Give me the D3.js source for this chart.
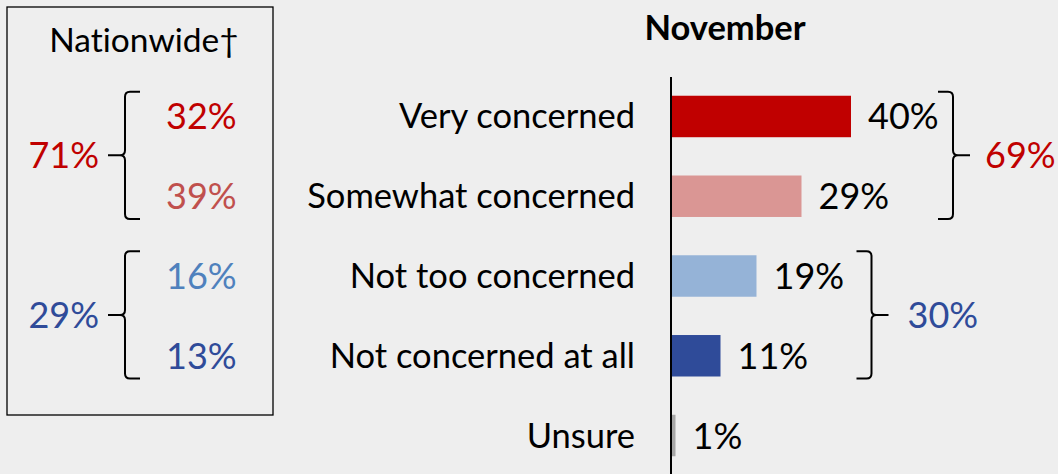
<!DOCTYPE html>
<html>
<head>
<meta charset="utf-8">
<script src="https://cdnjs.cloudflare.com/ajax/libs/d3/7.8.5/d3.min.js"></script>
<style>
  html, body { margin: 0; padding: 0; background: #eeeeee; }
  svg { display: block; }
  text { font-family: Lato, "Open Sans", sans-serif; font-variant-ligatures: none; font-feature-settings: "liga" 0; }
</style>
</head>
<body>
<svg id="chart" width="1058" height="474"></svg>
<script>
// ---- data ----
const title = "November";
const categories = ["Very concerned", "Somewhat concerned", "Not too concerned", "Not concerned at all", "Unsure"];
const values = [40, 29, 19, 11, 1];
const barColors = ["#C00000", "#DA9694", "#95B3D7", "#2F4B99", "#A6A6A6"];
const netLabels = ["69%", "30%"];
const netMembers = [[0, 1], [2, 3]];
const netColors = ["#C00000", "#2F4B99"];

const nationTitle = "Nationwide\u2020";
const nationTotals = ["71%", "29%"];
const nationParts = [["32%", "39%"], ["16%", "13%"]];
const nationPartColors = [["#C00000", "#C0504D"], ["#4F81BD", "#2F4B99"]];
const nationTotalColors = ["#C00000", "#2F4B99"];

// ---- layout ----
const svg = d3.select("#chart");
const axisX = 671;
const x = d3.scaleLinear().domain([0, 100]).range([axisX, axisX + 450]);
const y = d3.scaleBand().domain(categories).range([76.6, 475.4]).paddingInner(0.48).paddingOuter(0.24);
const yc = c => y(c) + y.bandwidth() / 2;

// title
svg.append("text").attr("x", 725).attr("y", 40).attr("text-anchor", "middle")
  .attr("font-weight", "bold").attr("font-size", 34.5).attr("fill", "#000").text(title);

// bars
svg.selectAll("rect.bar").data(categories).join("rect").attr("class", "bar")
  .attr("x", x(0)).attr("y", d => y(d))
  .attr("width", (d, i) => x(values[i]) - x(0)).attr("height", y.bandwidth())
  .attr("fill", (d, i) => barColors[i]);

// axis line
svg.append("line").attr("x1", axisX).attr("x2", axisX).attr("y1", 77).attr("y2", 474)
  .attr("stroke", "#000").attr("stroke-width", 2);

// category labels
svg.selectAll("text.cat").data(categories).join("text").attr("class", "cat")
  .attr("x", axisX - 36).attr("y", d => yc(d) + 12).attr("text-anchor", "end")
  .attr("font-size", 34.5).attr("fill", "#000").text(d => d);

// value labels
svg.selectAll("text.val").data(categories).join("text").attr("class", "val")
  .attr("x", (d, i) => x(values[i]) + 17).attr("y", d => yc(d) + 13)
  .attr("font-size", 36).attr("fill", "#000").text((d, i) => values[i] + "%");

// bracket path helper: dir = 1 for "}" (tick right), -1 for "{" (tick left)
function bracePath(xv, y0, y1, w, t, dir) {
  const ym = (y0 + y1) / 2, r = 5;
  const tip = xv - dir * w;
  return `M${tip},${y0} L${xv - dir * r},${y0} Q${xv},${y0} ${xv},${y0 + r} L${xv},${ym - r} Q${xv},${ym} ${xv + dir * r},${ym} L${xv + dir * t},${ym} ` +
         `M${xv + dir * r},${ym} Q${xv},${ym} ${xv},${ym + r} L${xv},${y1 - r} Q${xv},${y1} ${xv - dir * r},${y1} L${tip},${y1}`;
}

// net brackets on chart
const netOffsets = [102, 115];
const netLabelGaps = [32, 36];
netMembers.forEach((m, gi) => {
  const y0 = y(categories[m[0]]) - 4;
  const y1 = y(categories[m[1]]) + y.bandwidth() + 2;
  const maxV = d3.max(m, i => values[i]);
  const xv = x(maxV) + netOffsets[gi];
  svg.append("path").attr("d", bracePath(xv, y0, y1, 15, 17, 1))
    .attr("fill", "none").attr("stroke", "#000").attr("stroke-width", 2);
  svg.append("text").attr("x", xv + netLabelGaps[gi]).attr("y", (y0 + y1) / 2 + 13)
    .attr("font-size", 36).attr("fill", netColors[gi]).text(netLabels[gi]);
});

// ---- nationwide box ----
svg.append("rect").attr("x", 7).attr("y", 7).attr("width", 266).attr("height", 408)
  .attr("fill", "none").attr("stroke", "#000").attr("stroke-width", 1.3);
svg.append("text").attr("x", 144).attr("y", 52).attr("text-anchor", "middle")
  .attr("font-size", 33.5).attr("fill", "#000").text(nationTitle);

nationParts.forEach((parts, gi) => {
  const cats = netMembers[gi].map(i => categories[i]);
  const y0 = y(cats[0]) - 4;
  const y1 = y(cats[1]) + y.bandwidth() + 2;
  svg.append("path").attr("d", bracePath(125, y0, y1, 15, 17, -1))
    .attr("fill", "none").attr("stroke", "#000").attr("stroke-width", 2);
  svg.append("text").attr("x", 99).attr("y", (y0 + y1) / 2 + 13).attr("text-anchor", "end")
    .attr("font-size", 36).attr("fill", nationTotalColors[gi]).text(nationTotals[gi]);
  parts.forEach((p, k) => {
    svg.append("text").attr("x", 166).attr("y", yc(cats[k]) + 13)
      .attr("font-size", 36).attr("fill", nationPartColors[gi][k]).text(p);
  });
});
</script>
</body>
</html>
